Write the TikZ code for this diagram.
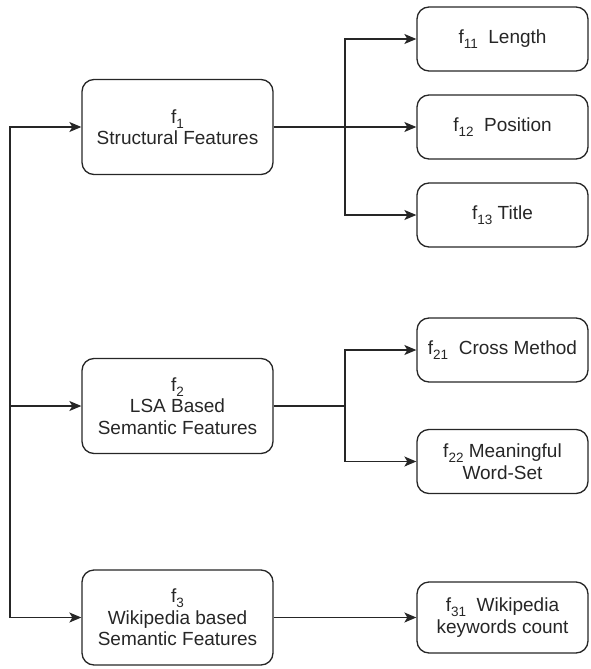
\documentclass[tikz,border=0pt]{standalone}
\usepackage{fontspec}
\setmainfont{Liberation Sans}
\usetikzlibrary{arrows.meta}
\newcommand\fsub[2]{#1\raisebox{-0.5ex}{\fontsize{13.5}{13.5}\selectfont #2}}
\tikzset{
  box/.style={draw=black!85, line width=1.3pt, rounded corners=12pt, align=center,
    font=\fontsize{19}{21.5}\selectfont, inner sep=2pt, text=black!85},
  lbox/.style={box, minimum width=191pt, minimum height=95pt},
  rbox/.style={box, minimum width=171pt, minimum height=64pt},
  conn/.style={draw=black!85, line width=1.3pt},
  arr/.style={conn, -{Stealth[length=12pt,width=10pt,inset=3pt]}}
}
\begin{document}
\begin{tikzpicture}[x=1pt,y=-1pt]
\useasboundingbox (0,0) rectangle (590,669);
% left column
\node[lbox] (f1) at (177.5,127) {\fsub{f}{1}\\Structural Features};
\node[lbox] (f2) at (177.5,406) {\fsub{f}{2}\\LSA Based\\Semantic Features};
\node[lbox] (f3) at (177.5,617.5) {\fsub{f}{3}\\Wikipedia based\\Semantic Features};
% right column
\node[rbox] (f11) at (502.5,39) {\fsub{f}{11}\ \ Length};
\node[rbox] (f12) at (502.5,127) {\fsub{f}{12}\ \ Position};
\node[rbox] (f13) at (502.5,215) {\fsub{f}{13}\ Title};
\node[rbox] (f21) at (502.5,350) {\fsub{f}{21}\ \ Cross Method};
\node[rbox] (f22) at (502.5,461.5) {\fsub{f}{22}\ Meaningful\\Word-Set};
\node[rbox, minimum height=71pt] (f31) at (502.5,617.5) {\fsub{f}{31}\ \ Wikipedia\\keywords count};
% trunk
\coordinate (trunk) at (10,617.5);
\draw[arr] (trunk) |- (f1.west);
\draw[arr] (trunk) |- (f2.west);
\draw[arr] (trunk) -- (f3.west);
% branches
\coordinate (b1) at (345,127);
\coordinate (b2) at (345,406);
\draw[conn] (f1.east) -- (b1);
\draw[arr] (b1) |- (f11.west);
\draw[arr] (b1) -- (f12.west);
\draw[arr] (b1) |- (f13.west);
\draw[conn] (f2.east) -- (b2);
\draw[arr] (b2) |- (f21.west);
\draw[arr] (b2) |- (f22.west);
\draw[arr] (f3.east) -- (f31.west);
\end{tikzpicture}
\end{document}
